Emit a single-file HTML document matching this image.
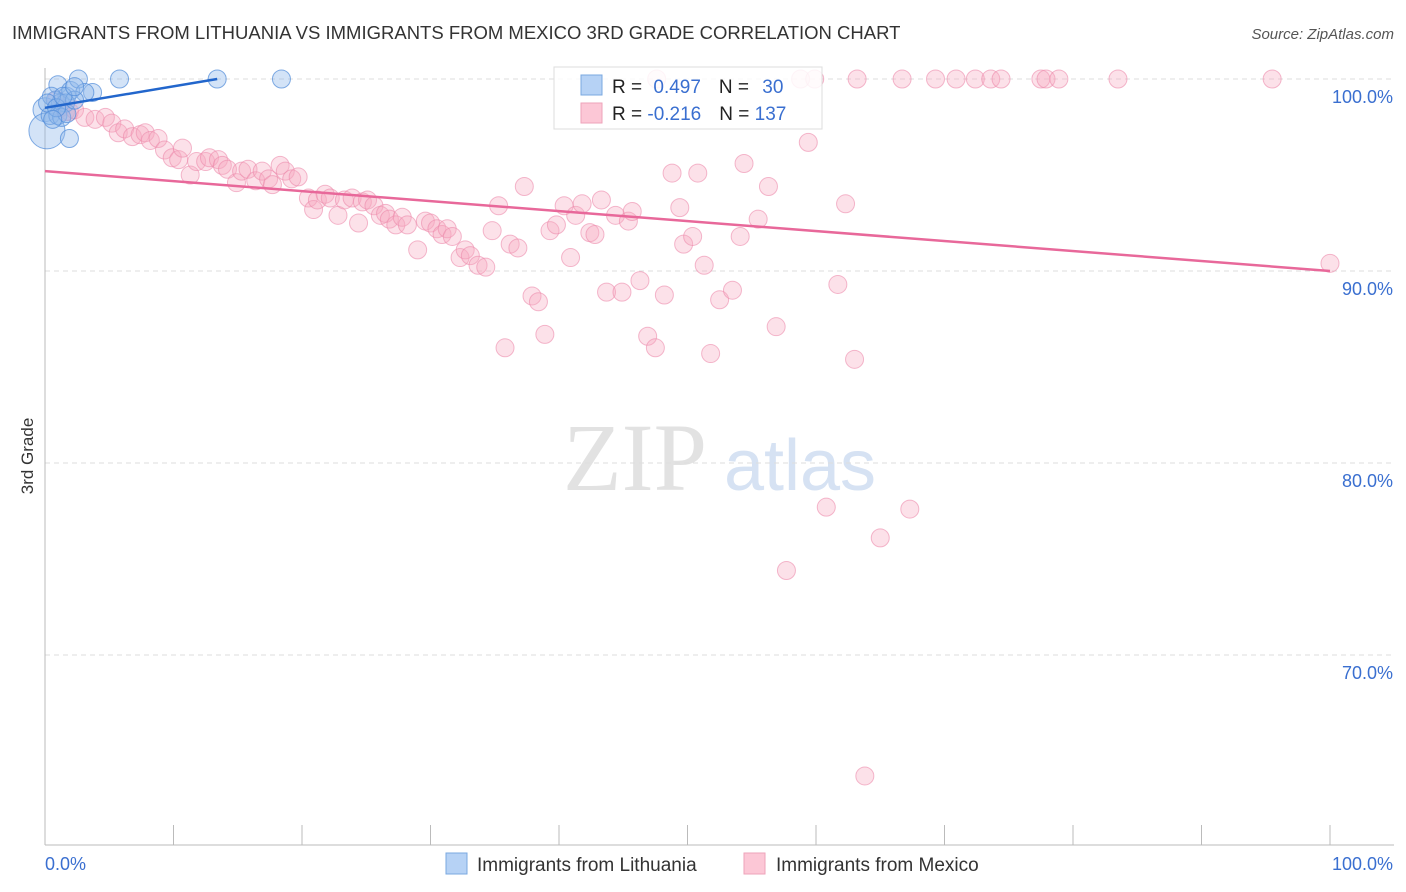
<!DOCTYPE html>
<html><head><meta charset="utf-8"><style>
body{margin:0;background:#fff;font-family:"Liberation Sans",sans-serif;}
svg{display:block}
</style></head><body>
<svg id="chart" width="1406" height="892" xmlns="http://www.w3.org/2000/svg">
<text x="12" y="39" font-size="18.5" fill="#333">IMMIGRANTS FROM LITHUANIA VS IMMIGRANTS FROM MEXICO 3RD GRADE CORRELATION CHART</text>
<text x="1394" y="39" font-size="15" fill="#555" text-anchor="end" font-style="italic">Source: ZipAtlas.com</text>
<text transform="translate(33,456) rotate(-90)" font-size="17" fill="#333" text-anchor="middle">3rd Grade</text>
<g><text x="635" y="490" font-size="96" fill="#e2e2e2" text-anchor="middle" font-family="Liberation Serif,serif">ZIP</text><text x="800" y="490" font-size="72" fill="#d6e2f3" text-anchor="middle">atlas</text></g>
<g id="grid"></g><g id="axes"></g><g id="pink"></g><g id="blue"></g><g id="trends"></g>
<g>
<rect x="554" y="67" width="268" height="62" fill="#fff" fill-opacity="0.85" stroke="#ddd"/>
<rect x="581" y="75" width="21" height="20" fill="#b6d2f5" stroke="#7aa8e0"/>
<rect x="581" y="103" width="21" height="20" fill="#fcc7d6" stroke="#eea3ba"/>
<text x="612" y="93" font-size="19" fill="#222">R = <tspan fill="#3a6fd0" dx="6">0.497</tspan><tspan dx="18" fill="#222">N = </tspan><tspan fill="#3a6fd0" dx="8">30</tspan></text>
<text x="612" y="120" font-size="19" fill="#222">R = <tspan fill="#3a6fd0">-0.216</tspan><tspan dx="18" fill="#222">N = </tspan><tspan fill="#3a6fd0">137</tspan></text>
</g>
<g>
<rect x="446" y="853" width="21" height="21" fill="#b6d2f5" stroke="#7aa8e0"/>
<text x="477" y="871" font-size="19" fill="#333">Immigrants from Lithuania</text>
<rect x="744" y="853" width="21" height="21" fill="#fcc7d6" stroke="#eea3ba"/>
<text x="776" y="871" font-size="19" fill="#333">Immigrants from Mexico</text>
</g>
</svg>
<script>
const yTicks=[100,90,80,70];
const yTickLabels=["100.0%","90.0%","80.0%","70.0%"];
const xTickLabels=["0.0%","100.0%"];
const blueX=[0,0.15,1.0,1.7,2.0,2.6,3.7,1.9,0.8,1.2,1.6,0.5,0.4,1.0,1.3,1.7,5.8,13.4,18.4,3.1,2.3,0.2,0.9,1.4,2.3,0.6];
const blueY=[98.4,97.3,99.7,99.1,99.4,100,99.3,96.9,98.9,98.75,98.75,99.1,98.1,98.1,98.0,98.2,100,100,100,99.3,98.9,98.75,98.5,99.1,99.6,97.9];
const blueR=[12,18,9,9,9,9,9,9,9,9,9,9,9,9,9,9,9,9,9,9,9,9,9,9,9,9];
const pinkX=[0.9,1.2,1.6,1.9,2.3,3.1,3.9,4.7,5.2,5.7,6.2,6.8,7.4,7.8,8.2,8.8,9.3,9.9,10.4,10.7,11.3,11.8,12.5,12.8,13.5,13.8,14.2,14.9,15.3,15.8,16.4,16.9,17.4,17.7,18.3,18.7,19.2,19.7,20.5,20.9,21.2,21.8,22.2,22.8,23.3,23.9,24.4,24.7,25.1,25.6,26.1,26.5,26.8,27.3,27.8,28.2,29.0,29.6,30.0,30.5,30.9,31.3,31.7,32.3,32.7,33.1,33.7,34.3,34.8,35.3,35.8,36.2,36.8,37.3,37.9,38.4,38.9,39.3,39.8,40.4,40.9,41.3,41.8,42.4,42.8,43.3,43.7,44.4,44.9,45.4,45.7,46.3,46.9,47.5,48.2,48.8,49.4,49.7,50.4,50.8,51.3,51.8,52.5,53.5,54.1,54.4,55.5,56.3,56.9,57.7,59.4,60.8,61.7,62.3,63.0,63.8,65.0,67.3,100,47.6,58.8,59.9,63.2,66.7,69.3,70.9,72.4,73.6,74.4,77.5,77.9,78.9,83.5,95.5];
const pinkY=[98.9,98.5,98.3,98.3,98.4,98.0,97.9,98.0,97.7,97.2,97.4,97.0,97.1,97.2,96.8,96.9,96.3,95.9,95.8,96.4,95.0,95.7,95.7,95.9,95.8,95.5,95.3,94.6,95.2,95.3,94.7,95.2,94.8,94.5,95.5,95.2,94.8,94.9,93.8,93.2,93.7,94.0,93.8,92.9,93.7,93.8,92.5,93.6,93.7,93.4,92.9,93.0,92.7,92.4,92.8,92.4,91.1,92.6,92.5,92.2,91.9,92.2,91.8,90.7,91.1,90.8,90.3,90.2,92.1,93.4,86.0,91.4,91.2,94.4,88.7,88.4,86.7,92.1,92.4,93.4,90.7,92.9,93.5,92.0,91.9,93.7,88.9,92.9,88.9,92.6,93.1,89.5,86.6,86.0,88.75,95.1,93.3,91.4,91.8,95.1,90.3,85.7,88.5,89.0,91.8,95.6,92.7,94.4,87.1,74.4,96.7,77.7,89.3,93.5,85.4,63.7,76.1,77.6,90.4,100,100,100,100,100,100,100,100,100,100,100,100,100,100,100,100];
const blueTrend=[0,98.5,13.4,100];
const pinkTrend=[0,95.2,100,90.0];
const X0=45,X1=1330,Y100=79,PX=19.2;
const sx=v=>X0+(X1-X0)*v/100;
const sy=v=>Y100+(100-v)*PX;
const NS="http://www.w3.org/2000/svg";
function mk(tag,attrs,parent){const e=document.createElementNS(NS,tag);for(const k in attrs)e.setAttribute(k,attrs[k]);parent.appendChild(e);return e;}
const grid=document.getElementById('grid'),axes=document.getElementById('axes');
yTicks.forEach((t,i)=>{
 const l=mk('line',{x1:X0,x2:1394,y1:sy(t),y2:sy(t),stroke:'#ddd','stroke-dasharray':'5,4'},grid);
 
 
 const tx=mk('text',{x:1393,y:sy(t)+24,'font-size':18,fill:'#3a6fd0','text-anchor':'end'},axes);
 tx.textContent=yTickLabels[i];
 
 
});
const ya=mk('line',{x1:X0,x2:X0,y1:68,y2:845,stroke:'#bbb'},axes);


const xa=mk('line',{x1:X0,x2:1394,y1:845,y2:845,stroke:'#bbb'},axes);


for(let i=0;i<=10;i++){const t=mk('line',{x1:sx(i*10),x2:sx(i*10),y1:825,y2:845,stroke:'#bbb'},axes);
 
 }
[[0,'start'],[100,'end']].forEach((p,i)=>{const t=mk('text',{x:i?1393:45,y:870,'font-size':18,fill:'#3a6fd0','text-anchor':p[1]},axes);t.textContent=xTickLabels[i];
 
 });
const pg=document.getElementById('pink');
pinkX.forEach((x,i)=>{const c=mk('circle',{cx:sx(x),cy:sy(pinkY[i]),r:9,fill:'#f7a8c0','fill-opacity':0.35,stroke:'#ec8aab','stroke-opacity':0.6},pg);
 
 });
const bg=document.getElementById('blue');
blueX.forEach((x,i)=>{const c=mk('circle',{cx:sx(x),cy:sy(blueY[i]),r:blueR[i],fill:'#90b8ea','fill-opacity':0.4,stroke:'#4f8ad8','stroke-opacity':0.7},bg);
 
 });
const tg=document.getElementById('trends');
const bt=mk('line',{x1:sx(blueTrend[0]),y1:sy(blueTrend[1]),x2:sx(blueTrend[2]),y2:sy(blueTrend[3]),stroke:'#2266cc','stroke-width':2.5},tg);


const pt=mk('line',{x1:sx(pinkTrend[0]),y1:sy(pinkTrend[1]),x2:sx(pinkTrend[2]),y2:sy(pinkTrend[3]),stroke:'#e8689a','stroke-width':2.5},tg);


</script>
</body></html>
